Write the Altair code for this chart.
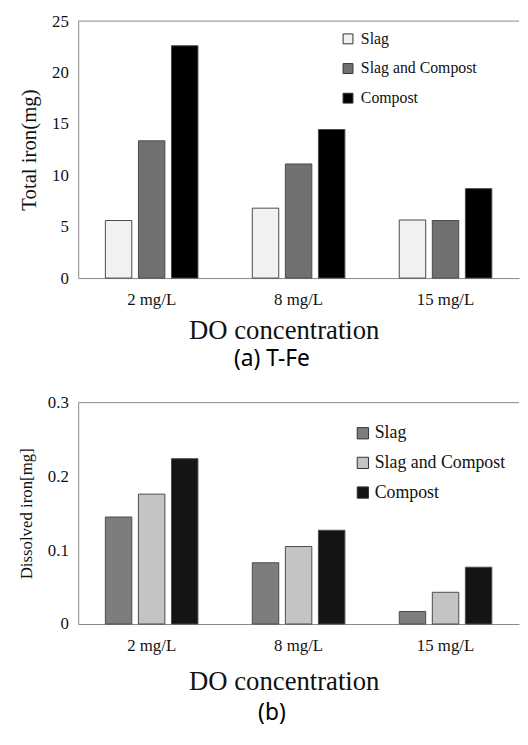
import altair as alt
import pandas as pd

categories = ["2 mg/L", "8 mg/L", "15 mg/L"]
series = ["Slag", "Slag and Compost", "Compost"]

total_slag = [5.6, 6.8, 5.65]
total_mix = [13.35, 11.1, 5.6]
total_compost = [22.6, 14.45, 8.7]

diss_slag = [0.145, 0.083, 0.017]
diss_mix = [0.176, 0.105, 0.043]
diss_compost = [0.224, 0.127, 0.077]

top_colors = ["#f1f1f1", "#707070", "#000000"]
bot_colors = ["#7d7d7d", "#c4c4c4", "#141414"]

def make_df(a, b, c):
    rows = []
    for i, cat in enumerate(categories):
        for s, vals in zip(series, [a, b, c]):
            rows.append({"DO": cat, "Series": s, "value": vals[i]})
    return pd.DataFrame(rows)

df_top = make_df(total_slag, total_mix, total_compost)
df_bot = make_df(diss_slag, diss_mix, diss_compost)

SERIF = "Liberation Serif"
W = 446

def panel(df, colors, ymax, yvals, yfmt, ytitle, ytitle_size, caption, h,
          legx, legy, sym, loff, lsize, rowpad, xtpad, capoff):
    base = alt.Chart(df)
    bars = base.mark_bar(stroke="#4a4a4a", strokeWidth=1).encode(
        x=alt.X("DO:N", sort=categories,
                scale=alt.Scale(paddingInner=0.37, paddingOuter=0.185),
                axis=alt.Axis(title="DO concentration", labelAngle=0,
                              labelFontSize=17, labelPadding=14, ticks=False,
                              titleFontSize=27, titlePadding=xtpad, titleX=208)),
        xOffset=alt.XOffset("Series:N", sort=series,
                            scale=alt.Scale(paddingInner=0.2, paddingOuter=0)),
        y=alt.Y("value:Q", scale=alt.Scale(domain=[0, ymax], nice=False),
                axis=alt.Axis(title=ytitle, values=yvals, format=yfmt,
                              labelFontSize=17, ticks=False, labelPadding=10,
                              titleFontSize=ytitle_size, titlePadding=12)),
        color=alt.Color("Series:N", sort=series,
                        scale=alt.Scale(domain=series, range=colors),
                        legend=alt.Legend(title=None, orient="none",
                                          legendX=legx, legendY=legy,
                                          symbolType="square", symbolSize=sym,
                                          labelFontSize=lsize, labelFont=SERIF,
                                          labelOffset=loff, rowPadding=rowpad)),
    )
    top_line = alt.Chart(pd.DataFrame({"t": [ymax]})).mark_rule(
        color="#888888", strokeWidth=1).encode(y=alt.Y("t:Q"))
    return alt.layer(bars, top_line).properties(
        width=W, height=h,
        title=alt.TitleParams(caption, orient="bottom", font="Noto Sans",
                              fontSize=23, fontWeight="normal", color="#000",
                              dx=-27, offset=capoff))

top = panel(df_top, top_colors, 25, [0, 5, 10, 15, 20, 25], "d",
            "Total iron(mg)", 21, "(a) T-Fe", 260, 265, 10, 100, 5, 16, 14,
            10, 5)
bot = panel(df_bot, bot_colors, 0.3, [0, 0.1, 0.2, 0.3], ".1~f",
            "Dissolved iron[mg]", 17, "(b)", 224, 279, 22, 130, 3, 18, 12,
            15, 8)

chart = alt.vconcat(top, bot, spacing=23).resolve_scale(
    color="independent"
).properties(
    padding={"left": 9, "top": 0, "right": 0, "bottom": 2}
).configure(font=SERIF).configure_view(stroke=None).configure_axis(
    domainColor="#888888", grid=False, labelFont=SERIF, titleFont=SERIF,
    labelColor="#111111", titleColor="#111111", titleFontWeight="normal"
).configure_legend(labelColor="#111111", labelFont=SERIF,
                   symbolStrokeColor="#333333", symbolStrokeWidth=1)

chart.save("out.html", embed_options={"renderer": "svg", "actions": False})
